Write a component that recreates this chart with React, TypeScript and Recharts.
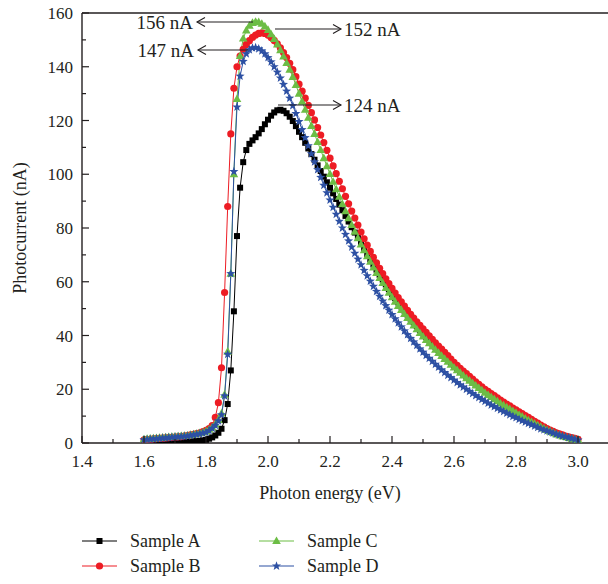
import { LineChart, Line, XAxis, YAxis, ReferenceLine } from 'recharts'

// photon energy grid (eV)
const energy = [
  1.6, 1.61, 1.62, 1.63, 1.64, 1.65, 1.66, 1.67, 1.68, 1.69,
  1.7, 1.71, 1.72, 1.73, 1.74, 1.75, 1.76, 1.77, 1.78, 1.79,
  1.8, 1.81, 1.82, 1.83, 1.84, 1.85, 1.86, 1.87, 1.88, 1.89,
  1.9, 1.91, 1.92, 1.93, 1.94, 1.95, 1.96, 1.97, 1.98, 1.99,
  2.0, 2.01, 2.02, 2.03, 2.04, 2.05, 2.06, 2.07, 2.08, 2.09,
  2.1, 2.11, 2.12, 2.13, 2.14, 2.15, 2.16, 2.17, 2.18, 2.19,
  2.2, 2.21, 2.22, 2.23, 2.24, 2.25, 2.26, 2.27, 2.28, 2.29,
  2.3, 2.31, 2.32, 2.33, 2.34, 2.35, 2.36, 2.37, 2.38, 2.39,
  2.4, 2.41, 2.42, 2.43, 2.44, 2.45, 2.46, 2.47, 2.48, 2.49,
  2.5, 2.51, 2.52, 2.53, 2.54, 2.55, 2.56, 2.57, 2.58, 2.59,
  2.6, 2.61, 2.62, 2.63, 2.64, 2.65, 2.66, 2.67, 2.68, 2.69,
  2.7, 2.71, 2.72, 2.73, 2.74, 2.75, 2.76, 2.77, 2.78, 2.79,
  2.8, 2.81, 2.82, 2.83, 2.84, 2.85, 2.86, 2.87, 2.88, 2.89,
  2.9, 2.91, 2.92, 2.93, 2.94, 2.95, 2.96, 2.97, 2.98, 2.99,
  3.0,
]

// photocurrent (nA)
const sampleA = [
  0.1, 0.1, 0.1, 0.1, 0.1, 0.1, 0.2, 0.2, 0.2, 0.2,
  0.3, 0.3, 0.3, 0.4, 0.4, 0.5, 0.6, 0.7, 0.8, 1.0,
  1.2, 1.6, 2.1, 2.8, 3.8, 5.3, 8.5, 14.5, 27, 49,
  77, 95, 104.5, 109, 111.3, 112.6, 113.8, 115.2, 116.8, 118.6,
  120.3, 121.8, 123.0, 123.8, 124.0, 123.6, 122.7, 121.4, 119.8, 117.9,
  115.8, 113.8, 111.7, 109.6, 107.5, 105.4, 103.3, 101.2, 99.1, 97.0,
  95.0, 92.9, 90.8, 88.7, 86.6, 84.5, 82.4, 80.3, 78.3, 76.3,
  74.3, 72.3, 70.3, 68.3, 66.4, 64.5, 62.6, 60.8, 59.0, 57.2,
  55.5, 53.9, 52.3, 50.8, 49.3, 47.8, 46.3, 44.9, 43.5, 42.1,
  40.8, 39.5, 38.2, 37.0, 35.8, 34.6, 33.4, 32.2, 31.1, 30.0,
  28.9, 27.8, 26.8, 25.8, 24.8, 23.8, 22.9, 22.0, 21.1, 20.2,
  19.3, 18.5, 17.7, 16.9, 16.1, 15.3, 14.5, 13.8, 13.1, 12.4,
  11.7, 11.0, 10.3, 9.6, 8.9, 8.2, 7.5, 6.9, 6.3, 5.7,
  5.1, 4.5, 4.0, 3.5, 3.0, 2.6, 2.3, 2.0, 1.7, 1.4,
  1.2,
]

const sampleB = [
  1.2, 1.3, 1.4, 1.5, 1.6, 1.7, 1.8, 1.9, 2.0, 2.1,
  2.2, 2.3, 2.4, 2.6, 2.8, 3.0, 3.2, 3.5, 3.8, 4.2,
  4.7, 5.4, 6.5, 9.5, 15, 28, 56, 88, 115, 132,
  140, 144, 146.5, 148.3, 149.7, 150.9, 151.8, 152.4, 152.6, 152.4,
  151.8, 150.9, 149.8, 148.5, 147.0, 145.3, 143.4, 141.3, 138.9, 136.3,
  133.5, 130.9, 128.3, 125.6, 122.9, 120.2, 117.4, 114.6, 111.8, 108.9,
  106.0, 103.1, 100.2, 97.4, 94.6, 91.8, 89.0, 86.3, 83.7, 81.1,
  78.5, 76.0, 73.6, 71.3, 69.1, 67.0, 65.0, 63.0, 61.1, 59.3,
  57.5, 55.8, 54.1, 52.5, 50.9, 49.4, 47.9, 46.5, 45.1, 43.8,
  42.5, 41.2, 39.9, 38.6, 37.3, 36.1, 34.9, 33.7, 32.5, 31.2,
  30.0, 28.9, 27.8, 26.8, 25.8, 24.8, 23.8, 22.8, 21.8, 20.9,
  20.0, 19.2, 18.4, 17.6, 16.8, 16.0, 15.2, 14.5, 13.8, 13.0,
  12.3, 11.6, 10.9, 10.2, 9.5, 8.8, 8.1, 7.4, 6.7, 6.0,
  5.4, 4.8, 4.3, 3.8, 3.4, 3.0, 2.6, 2.3, 2.0, 1.7,
  1.4,
]

const sampleC = [
  1.4, 1.5, 1.6, 1.7, 1.8, 1.9, 2.0, 2.1, 2.2, 2.3,
  2.4, 2.5, 2.6, 2.7, 2.8, 3.0, 3.2, 3.4, 3.7, 4.0,
  4.4, 5.0, 5.8, 7.0, 8.6, 11, 18, 34, 63, 100,
  128, 144, 150.5, 153.5, 155.3, 156.3, 156.7, 156.6, 156.0, 155.0,
  153.7, 152.1, 150.3, 148.3, 146.1, 143.8, 141.4, 138.9, 136.2, 133.2,
  130.0, 127.0, 124.0, 121.0, 118.0, 115.0, 112.0, 109.0, 106.0, 103.0,
  100.1, 97.2, 94.4, 91.6, 88.9, 86.2, 83.6, 81.1, 78.6, 76.2,
  73.9, 71.7, 69.5, 67.4, 65.3, 63.3, 61.4, 59.5, 57.7, 55.9,
  54.2, 52.6, 51.0, 49.5, 48.0, 46.5, 45.1, 43.7, 42.3, 40.9,
  39.6, 38.3, 37.1, 35.9, 34.7, 33.5, 32.4, 31.3, 30.2, 29.1,
  28.1, 27.1, 26.1, 25.1, 24.1, 23.2, 22.3, 21.4, 20.5, 19.6,
  18.7, 17.9, 17.1, 16.3, 15.5, 14.7, 14.0, 13.3, 12.6, 11.9,
  11.2, 10.5, 9.8, 9.1, 8.4, 7.8, 7.2, 6.6, 6.0, 5.4,
  4.8, 4.3, 3.8, 3.3, 2.9, 2.5, 2.2, 1.9, 1.6, 1.4,
  1.2,
]

const sampleD = [
  1.2, 1.3, 1.4, 1.5, 1.6, 1.7, 1.8, 1.9, 2.0, 2.1,
  2.2, 2.3, 2.4, 2.5, 2.6, 2.8, 3.0, 3.2, 3.4, 3.7,
  4.0, 4.6, 5.4, 6.6, 8.2, 10.5, 17.5, 33, 63, 101,
  125, 136.5, 142, 144.8, 146.3, 147.0, 147.1, 146.7, 145.9, 144.8,
  143.4, 141.8, 140.0, 138.0, 135.8, 133.4, 130.9, 128.3, 125.5, 122.6,
  119.6, 116.6, 113.6, 110.6, 107.6, 104.6, 101.7, 98.8, 95.9, 93.1,
  90.4, 87.7, 85.1, 82.5, 80.0, 77.6, 75.2, 72.9, 70.6, 68.4,
  66.3, 64.2, 62.2, 60.2, 58.3, 56.4, 54.6, 52.8, 51.1, 49.4,
  47.8, 46.2, 44.7, 43.2, 41.7, 40.3, 38.9, 37.6, 36.3, 35.0,
  33.8, 32.6, 31.5, 30.4, 29.3, 28.2, 27.2, 26.2, 25.2, 24.3,
  23.4, 22.5, 21.6, 20.8, 20.0, 19.2, 18.4, 17.6, 16.9, 16.2,
  15.5, 14.8, 14.1, 13.5, 12.9, 12.3, 11.7, 11.1, 10.5, 9.9,
  9.4, 8.8, 8.3, 7.8, 7.3, 6.8, 6.3, 5.8, 5.3, 4.9,
  4.5, 4.1, 3.7, 3.3, 2.9, 2.6, 2.3, 2.0, 1.7, 1.4,
  1.1,
]

const xTicks = [1.4, 1.5, 1.6, 1.7, 1.8, 1.9, 2.0, 2.1, 2.2, 2.3, 2.4, 2.5, 2.6, 2.7, 2.8, 2.9, 3.0]
const yTicks = [0, 10, 20, 30, 40, 50, 60, 70, 80, 90, 100, 110, 120, 130, 140, 150, 160]

const seriesNames = ['Sample A', 'Sample B', 'Sample C', 'Sample D']
const colors = ['#000000', '#ed1c24', '#6cbd45', '#2d50a3']

const data = energy.map((e, i) => ({
  e,
  a: sampleA[i],
  b: sampleB[i],
  c: sampleC[i],
  d: sampleD[i],
}))

const FONT = '"Liberation Serif", "Times New Roman", serif'
const INK = '#231f20'

function starPoints(cx: number, cy: number, R: number, r: number) {
  const pts: string[] = []
  for (let i = 0; i < 10; i++) {
    const ang = -Math.PI / 2 + (i * Math.PI) / 5
    const rad = i % 2 === 0 ? R : r
    pts.push(`${cx + rad * Math.cos(ang)},${cy + rad * Math.sin(ang)}`)
  }
  return pts.join(' ')
}

function Marker({ kind, cx, cy }: { kind: number; cx: number; cy: number }) {
  const fill = colors[kind]
  if (kind === 0) return <rect x={cx - 3} y={cy - 3} width={6} height={6} fill={fill} />
  if (kind === 1) return <circle cx={cx} cy={cy} r={3.6} fill={fill} />
  if (kind === 2)
    return <polygon points={`${cx},${cy - 4.6} ${cx - 4.3},${cy + 3} ${cx + 4.3},${cy + 3}`} fill={fill} />
  return <polygon points={starPoints(cx, cy, 4.8, 2.0)} fill={fill} />
}

const makeDot = (kind: number) => (p: any) => {
  if (p.cx == null || p.cy == null) return <g key={`${kind}-${p.index}`} />
  return (
    <g key={`${kind}-${p.index}`}>
      <Marker kind={kind} cx={p.cx} cy={p.cy} />
    </g>
  )
}

const XTick = ({ x, y, payload }: any) => {
  const v = payload.value as number
  const major = Math.round(v * 10) % 2 === 0
  return (
    <g>
      <line x1={x} x2={x} y1={y} y2={y - (major ? 7 : 4)} stroke={INK} strokeWidth={1.2} />
      {major && (
        <text x={x} y={y + 24} textAnchor="middle" fontFamily={FONT} fontSize={17} fill={INK}>
          {v.toFixed(1)}
        </text>
      )}
    </g>
  )
}

const YTick = ({ x, y, payload }: any) => {
  const v = payload.value as number
  const major = v % 20 === 0
  return (
    <g>
      <line x1={x} x2={x + (major ? 7 : 4)} y1={y} y2={y} stroke={INK} strokeWidth={1.2} />
      {major && (
        <text x={x - 9} y={y + 6} textAnchor="end" fontFamily={FONT} fontSize={17} fill={INK}>
          {v}
        </text>
      )}
    </g>
  )
}

function Arrow({ x1, x2, y }: { x1: number; x2: number; y: number }) {
  // arrow drawn from x1 to x2, head at x2
  const dir = x2 > x1 ? 1 : -1
  return (
    <g stroke={INK} strokeWidth={1.1} fill="none">
      <line x1={x1} y1={y} x2={x2} y2={y} />
      <polyline points={`${x2 - dir * 8},${y - 4.5} ${x2},${y} ${x2 - dir * 8},${y + 4.5}`} />
    </g>
  )
}

const annoStyle = { fontFamily: FONT, fontSize: 19, fill: INK }

export default function App() {
  return (
    <div style={{ position: 'absolute', left: 0, top: 0, width: 608, height: 584, overflow: 'hidden', background: '#fff' }}>
      <LineChart width={610} height={584} data={data} margin={{ top: 13, right: 1, bottom: 91, left: 0 }}>
        <XAxis
          type="number"
          dataKey="e"
          domain={[1.4, 3.1]}
          ticks={xTicks}
          interval={0}
          tick={XTick}
          tickLine={false}
          tickSize={0}
          tickMargin={0}
          height={50}
          axisLine={{ stroke: INK, strokeWidth: 1.4 }}
          allowDataOverflow
        />
        <YAxis
          type="number"
          domain={[0, 160]}
          ticks={yTicks}
          interval={0}
          tick={YTick}
          tickLine={false}
          tickSize={0}
          tickMargin={0}
          width={82}
          axisLine={{ stroke: INK, strokeWidth: 1.4 }}
          allowDataOverflow
        />
        <ReferenceLine y={160} stroke={INK} strokeWidth={1.4} ifOverflow="visible" />
        {['a', 'b', 'c', 'd'].map((k, i) => (
          <Line
            key={k}
            type="linear"
            dataKey={k}
            name={seriesNames[i]}
            stroke={colors[i]}
            strokeWidth={1}
            dot={makeDot(i)}
            activeDot={false}
            isAnimationActive={false}
          />
        ))}
      </LineChart>

      <svg width={608} height={584} style={{ position: 'absolute', left: 0, top: 0, pointerEvents: 'none' }}>
        {/* axis titles */}
        <text
          x={20}
          y={228}
          transform="rotate(-90 20 228)"
          textAnchor="middle"
          dominantBaseline="central"
          fontFamily={FONT}
          fontSize={18}
          fill={INK}
        >
          Photocurrent (nA)
        </text>
        <text x={330} y={499} textAnchor="middle" fontFamily={FONT} fontSize={18} fill={INK}>
          Photon energy (eV)
        </text>

        {/* peak annotations */}
        <Arrow x1={253} x2={197} y={22} />
        <text x={193} y={29} textAnchor="end" {...annoStyle}>156 nA</text>
        <Arrow x1={275} x2={341} y={29} />
        <text x={344} y={36} {...annoStyle}>152 nA</text>
        <Arrow x1={248} x2={198} y={50} />
        <text x={194} y={57} textAnchor="end" {...annoStyle}>147 nA</text>
        <Arrow x1={278} x2={341} y={105} />
        <text x={344} y={112} {...annoStyle}>124 nA</text>

        {/* legend */}
        {seriesNames.map((name, i) => {
          const col = i < 2 ? 0 : 1
          const row = i % 2
          const x0 = col === 0 ? 82 : 259
          const y0 = 541 + row * 25
          return (
            <g key={name}>
              <line x1={x0} x2={x0 + 35} y1={y0} y2={y0} stroke={colors[i]} strokeWidth={1.2} />
              <Marker kind={i} cx={x0 + 17.5} cy={y0} />
              <text x={x0 + 48} y={y0 + 6} fontFamily={FONT} fontSize={18} fill={INK}>
                {name}
              </text>
            </g>
          )
        })}
      </svg>
    </div>
  )
}
